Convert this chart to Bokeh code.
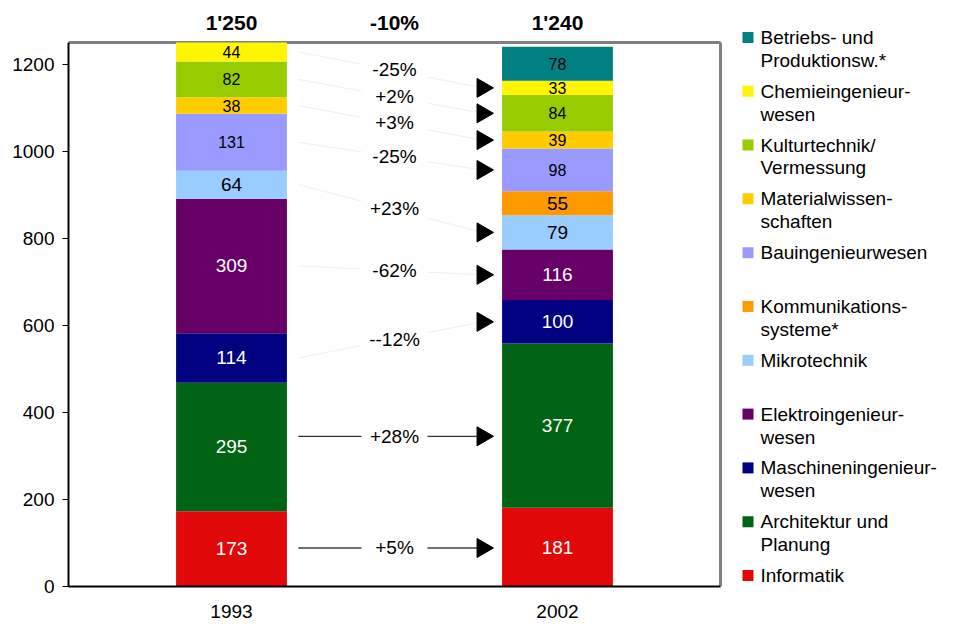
import math
from bokeh.plotting import figure
from bokeh.models import Range1d, FixedTicker, ColumnDataSource
from bokeh.embed import file_html
from bokeh.resources import INLINE
from bokeh.core.properties import value

# ---------------- data ----------------
years = ["1993", "2002"]
categories = [
    "Informatik",
    "Architektur und\nPlanung",
    "Maschineningenieur-\nwesen",
    "Elektroingenieur-\nwesen",
    "Mikrotechnik",
    "Kommunikations-\nsysteme*",
    "Bauingenieurwesen",
    "Materialwissen-\nschaften",
    "Kulturtechnik/\nVermessung",
    "Chemieingenieur-\nwesen",
    "Betriebs- und\nProduktionsw.*",
]
v1993 = [173, 295, 114, 309, 64, 0, 131, 38, 82, 44, 0]
v2002 = [181, 377, 100, 116, 79, 55, 98, 39, 84, 33, 78]
change_labels = ["+5%", "+28%", "--12%", "-62%", "+23%", None, "-25%", "+3%", "+2%", "-25%", None]
total_change = "-10%"
y_ticks = [0, 200, 400, 600, 800, 1000, 1200]

# ---------------- styles ----------------
colors = ["#E00808", "#006414", "#000080", "#660066", "#99CCFF", "#FF9900",
          "#9999FF", "#FFCC00", "#99CC00", "#FFF500", "#008080"]
label_colors = ["white", "white", "white", "white", "black", "black",
                "black", "black", "black", "black", "black"]
label_small = [False, False, False, False, False, False, True, True, True, True, True]
connector_color = ["#707070", "black", "#f0f0f0", "#f0f0f0", "#f0f0f0", None,
                   "#f0f0f0", "#f0f0f0", "#f0f0f0", "#f0f0f0", None]
connector_width = [2, 1, 1, 1, 1, 0, 1, 1, 1, 1, 0]
connector_straight = [True, True, False, False, False, False, False, False, False, False, False]

FONT = "Liberation Sans"
BAR_W = 0.34

# layout (page pixels)
W, H = 946, 620
FL, FR = 68, 720          # chart frame left/right
FT, FB = 42, 588          # chart frame top/bottom (y = max, y = 0)
TOP = 10                  # top of drawable area
ymax = sum(v1993)
PXY = (FB - FT) / ymax
PXX = (FR - FL) / len(years)


def px2y(py):
    return (FB - py) / PXY


def px2x(px):
    return (px - FL) / PXX


xs = [i + 0.5 for i in range(len(years))]
series = [v1993, v2002]
x_end = px2x(W)
y_end = px2y(TOP)

p = figure(width=W, height=H, x_range=Range1d(0, x_end), y_range=Range1d(0, y_end),
           output_backend="svg", toolbar_location=None,
           min_border_left=FL, min_border_right=0, min_border_top=TOP,
           min_border_bottom=H - FB)
p.xgrid.grid_line_color = None
p.ygrid.grid_line_color = None
p.outline_line_color = None

# chart frame (top + right border)
p.segment(x0=[0, len(years)], y0=[ymax, 0], x1=[len(years), len(years)], y1=[ymax, ymax],
          line_color="#808080", line_width=3)

# stacked bars
bars = dict(x=[], bottom=[], top=[], color=[], text=[], tcolor=[], mid=[], small=[])
centers = []
for xi, vals in zip(xs, series):
    base = 0
    cen = []
    for k, v in enumerate(vals):
        cen.append(base + v / 2)
        if v > 0:
            bars["x"].append(xi)
            bars["bottom"].append(base)
            bars["top"].append(base + v)
            bars["color"].append(colors[k])
            bars["text"].append(str(v))
            bars["tcolor"].append(label_colors[k])
            bars["mid"].append(base + v / 2)
            bars["small"].append(label_small[k])
        base += v
    centers.append(cen)

p.vbar(x="x", bottom="bottom", top="top", width=BAR_W, fill_color="color",
       line_color=None, source=ColumnDataSource(bars))

big = {k: [v for v, s in zip(bars[k], bars["small"]) if not s] for k in bars}
sml = {k: [v for v, s in zip(bars[k], bars["small"]) if s] for k in bars}
p.text(x="x", y="mid", text="text", text_color="tcolor", source=ColumnDataSource(big),
       text_align="center", text_baseline="middle", text_font=value(FONT),
       text_font_size="19px")
p.text(x="x", y="mid", text="text", text_color="tcolor", source=ColumnDataSource(sml),
       text_align="center", text_baseline="middle", text_font=value(FONT),
       text_font_size="16px")

# connectors, arrows, change labels
x_start = xs[0] + BAR_W / 2 + 0.035
x_arrow = xs[1] - BAR_W / 2 - 0.06
x_label = (xs[0] + xs[1]) / 2
seg = dict(x0=[], y0=[], x1=[], y1=[], color=[], w=[])
arr = dict(x=[], y=[])
lab = dict(x=[], y=[], text=[])
for k, txt in enumerate(change_labels):
    if txt is None:
        continue
    c0, c1 = centers[0][k], centers[1][k]
    mid = (c0 + c1) / 2
    if connector_straight[k]:
        y0 = y1 = mid
    else:
        y0, y1 = c0, c1
    seg["x0"].append(x_start); seg["y0"].append(y0)
    seg["x1"].append(x_arrow); seg["y1"].append(y1)
    seg["color"].append(connector_color[k]); seg["w"].append(connector_width[k])
    arr["x"].append(x_arrow); arr["y"].append(y1)
    lab["x"].append(x_label); lab["y"].append(mid); lab["text"].append(txt)

p.segment(x0="x0", y0="y0", x1="x1", y1="y1", line_color="color", line_width="w",
          source=ColumnDataSource(seg))
p.scatter(x="x", y="y", marker="triangle", angle=-math.pi / 2, size=19,
          fill_color="black", line_color="black", source=ColumnDataSource(arr))
lab_src = ColumnDataSource(lab)
p.rect(x="x", y="y", width=66, height=20, width_units="screen", height_units="screen",
       fill_color="white", line_color=None, source=lab_src)
p.text(x="x", y="y", text="text", source=lab_src, text_align="center",
       text_baseline="middle", text_font=value(FONT), text_font_size="19px",
       text_color="black")

# totals on top
totals = [sum(v) for v in series]
tot = dict(x=xs + [x_label],
           text=[f"{t:,}".replace(",", "'") for t in totals] + [total_change])
tot["y"] = [px2y(22)] * len(tot["x"])
p.text(x="x", y="y", text="text", source=ColumnDataSource(tot), text_align="center",
       text_baseline="middle", text_font=value(FONT), text_font_size="21px",
       text_font_style="bold", text_color="black")

# axes
p.yaxis.ticker = FixedTicker(ticks=y_ticks)
p.yaxis.bounds = (0, ymax)
p.yaxis.minor_tick_line_color = None
p.yaxis.major_tick_out = 6
p.yaxis.major_tick_in = 0
p.yaxis.major_label_standoff = 8
p.xaxis.ticker = FixedTicker(ticks=xs)
p.xaxis.bounds = (0, len(years))
p.xaxis.major_label_overrides = {xi: y for xi, y in zip(xs, years)}
p.xaxis.major_tick_line_color = None
p.xaxis.minor_tick_line_color = None
p.xaxis.major_label_standoff = 12
for ax in (p.xaxis, p.yaxis):
    ax.axis_line_color = "black"
    ax.axis_line_width = 2
    ax.major_label_text_font = FONT
    ax.major_label_text_font_size = "19px"
    ax.major_label_text_color = "black"

# legend (top entry first)
sq = dict(x=[], y=[], color=[])
lt = dict(x=[], y=[], text=[])
order = list(range(len(categories)))[::-1]
for i, k in enumerate(order):
    py = 37 + 54 * i
    sq["x"].append(px2x(747.5)); sq["y"].append(px2y(py)); sq["color"].append(colors[k])
    for j, line in enumerate(categories[k].split("\n")):
        lt["x"].append(px2x(760)); lt["y"].append(px2y(py + 23 * j)); lt["text"].append(line)
p.rect(x="x", y="y", width=11, height=11, width_units="screen", height_units="screen",
       fill_color="color", line_color=None, source=ColumnDataSource(sq))
p.text(x="x", y="y", text="text", text_align="left", text_baseline="middle",
       text_font=value(FONT), text_font_size="19px", text_color="black",
       source=ColumnDataSource(lt))

open("out.html", "w").write(file_html(p, INLINE))
